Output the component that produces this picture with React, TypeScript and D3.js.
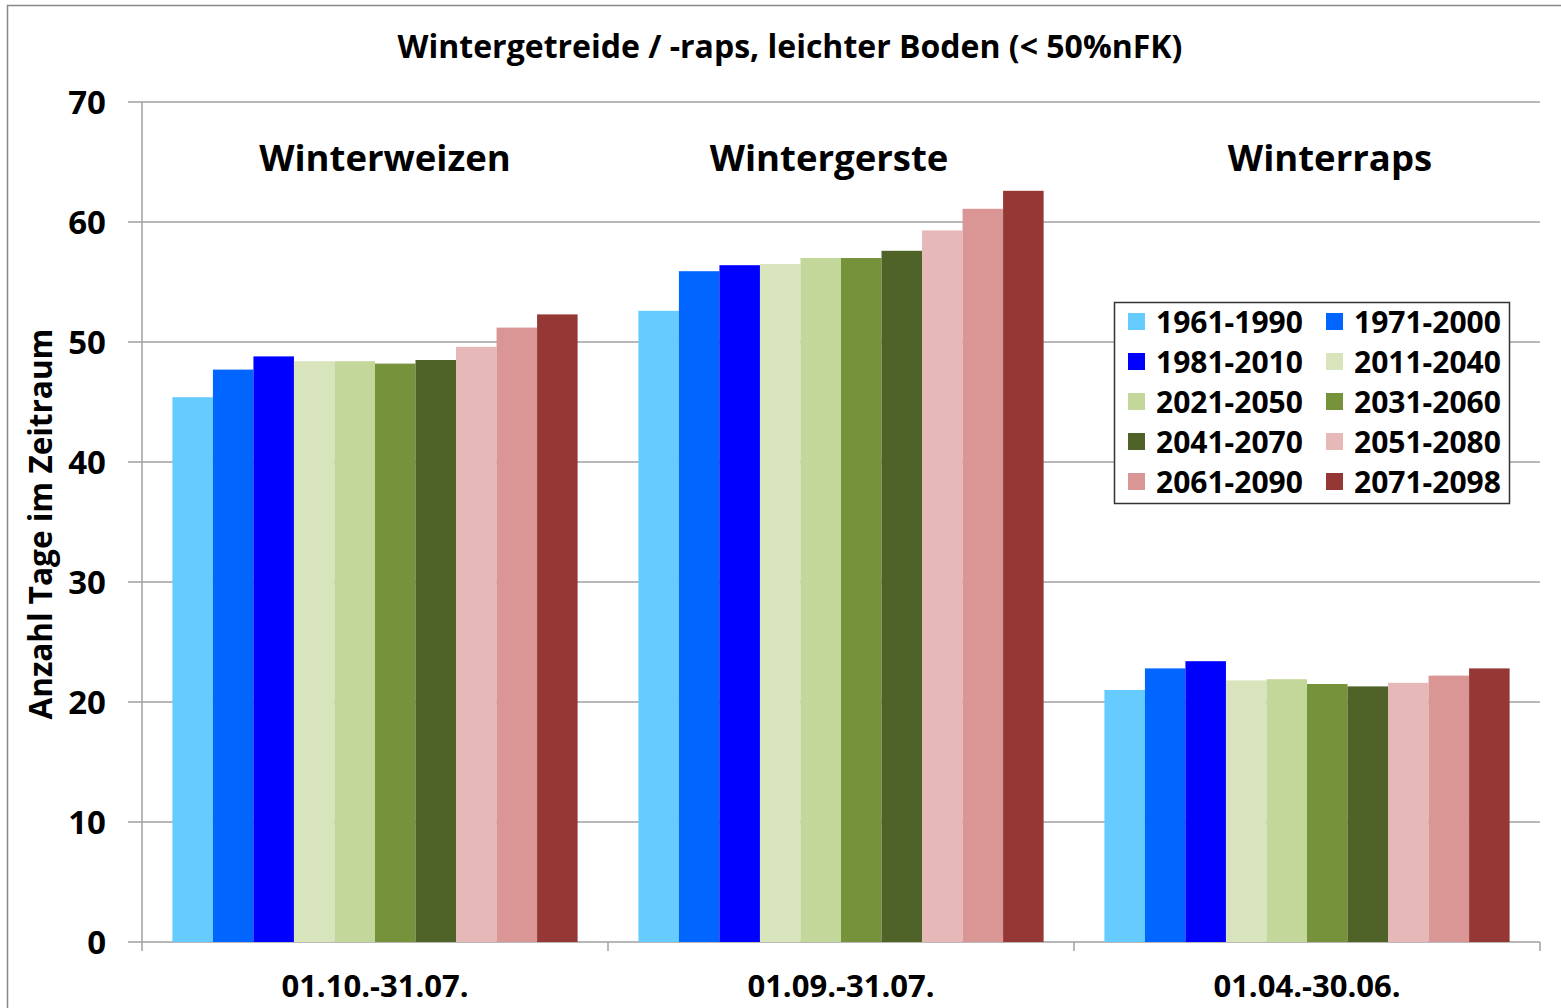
import React from 'react';
import * as d3 from 'd3';

const categories = ['01.10.-31.07.', '01.09.-31.07.', '01.04.-30.06.'];
const cropNames = ['Winterweizen', 'Wintergerste', 'Winterraps'];
const periods = ['1961-1990', '1971-2000', '1981-2010', '2011-2040', '2021-2050',
                 '2031-2060', '2041-2070', '2051-2080', '2061-2090', '2071-2098'];
const colors = ['#66CCFF', '#0066FF', '#0000FF', '#D8E4BC', '#C4D79B',
                '#76933C', '#4F6228', '#E6B9B8', '#DA9694', '#953735'];
// one row per period, values for the three categories
const values = [
  [45.4, 52.6, 21.0],
  [47.7, 55.9, 22.8],
  [48.8, 56.4, 23.4],
  [48.4, 56.5, 21.8],
  [48.4, 57.0, 21.9],
  [48.2, 57.0, 21.5],
  [48.5, 57.6, 21.3],
  [49.6, 59.3, 21.6],
  [51.2, 61.1, 22.2],
  [52.3, 62.6, 22.8],
];
const yTicks = [0, 10, 20, 30, 40, 50, 60, 70];

const W = 1561, H = 1008;
const left = 142, right = 1540, top = 102, bottom = 942;
const font = 'Open Sans, sans-serif';

export default function App() {
  const x = d3.scaleBand().domain(categories).range([left, right]).padding(0);
  const xs = d3.scaleBand().domain(periods).range([0, x.bandwidth()])
               .paddingInner(0).paddingOuter(0.75);
  const y = d3.scaleLinear().domain([0, 70]).range([bottom, top]);
  const labelOffsets = [10, -12, 23];

  return (
    <svg width={W} height={H} style={{ position: 'absolute', left: 0, top: 0, background: '#fff' }}>
      <rect x={7.5} y={5.5} width={W - 4} height={H} fill="#fff" stroke="#888" strokeWidth={1.5} />
      <text x={790} y={58} textAnchor="middle" fontFamily={font} fontWeight="bold" fontSize={32}>
        Wintergetreide / -raps, leichter Boden (&lt; 50%nFK)
      </text>

      {yTicks.map(t => (
        <g key={t}>
          <line x1={128} x2={right} y1={y(t)} y2={y(t)} stroke="#a0a0a0" strokeWidth={1.5} />
          <text x={106} y={y(t) + 12} textAnchor="end" fontFamily={font} fontWeight="bold" fontSize={33}>{t}</text>
        </g>
      ))}
      <line x1={left} x2={left} y1={top} y2={bottom} stroke="#a0a0a0" strokeWidth={1.5} />

      {categories.map((c, ci) => (
        <g key={c} transform={`translate(${x(c)},0)`}>
          {periods.map((p, pi) => (
            <rect key={p} x={xs(p)} width={xs.bandwidth()} y={y(values[pi][ci])}
                  height={y(0) - y(values[pi][ci])} fill={colors[pi]} />
          ))}
          <text x={x.bandwidth() / 2 + labelOffsets[ci]} y={171} textAnchor="middle"
                fontFamily={font} fontWeight="bold" fontSize={36.5}>{cropNames[ci]}</text>
          <text x={x.bandwidth() / 2} y={997} textAnchor="middle"
                fontFamily={font} fontWeight="bold" fontSize={31}>{c}</text>
        </g>
      ))}

      {[left, ...categories.map(c => x(c)! + x.bandwidth())].map((v, i) => (
        <line key={i} x1={v} x2={v} y1={bottom} y2={bottom + 9} stroke="#a0a0a0" strokeWidth={1.5} />
      ))}

      <text transform={`translate(52,524) rotate(-90)`} textAnchor="middle"
            fontFamily={font} fontWeight="bold" fontSize={31.5}>Anzahl Tage im Zeitraum</text>

      <g transform="translate(1114,302)">
        <rect x={0.5} y={0.5} width={395} height={201} fill="#fff" stroke="#333" strokeWidth={1.5} />
        {periods.map((p, i) => {
          const col = i % 2, row = Math.floor(i / 2);
          const gx = 14 + col * 198, gy = 20 + row * 40;
          return (
            <g key={p} transform={`translate(${gx},${gy})`}>
              <rect x={0} y={-9} width={17} height={17} fill={colors[i]} />
              <text x={28} y={11} fontFamily={font} fontWeight="bold" fontSize={30}>{p}</text>
            </g>
          );
        })}
      </g>
    </svg>
  );
}
